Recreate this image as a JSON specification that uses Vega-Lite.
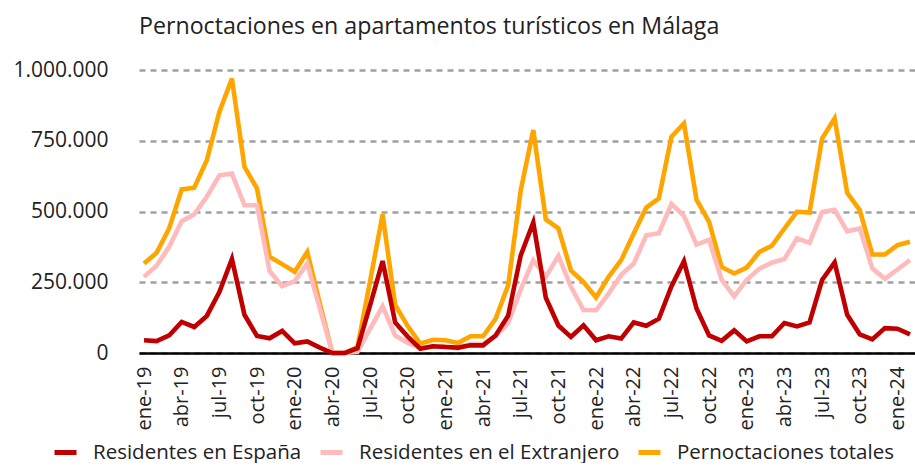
{
  "$schema": "https://vega.github.io/schema/vega-lite/v6.json",
  "width": 776,
  "height": 283,
  "padding": {"left": 0, "top": 14, "right": 0, "bottom": 0},
  "background": "white",
  "config": {
    "view": {"stroke": null},
    "locale": {"number": {"decimal": ",", "thousands": ".", "grouping": [3], "currency": ["", " €"]}},
    "font": "Open Sans"
  },
  "title": {
    "text": "Pernoctaciones en apartamentos turísticos en Málaga",
    "anchor": "start",
    "frame": "group",
    "font": "Open Sans",
    "fontSize": 23.2,
    "fontWeight": "normal",
    "color": "#222222",
    "offset": 20
  },
  "data": {
    "values": [
      {"mes": "ene-19", "esp": 45000, "ext": 269000, "tot": 316000},
      {"mes": "feb-19", "esp": 42000, "ext": 308000, "tot": 354000},
      {"mes": "mar-19", "esp": 62000, "ext": 375000, "tot": 440000},
      {"mes": "abr-19", "esp": 110000, "ext": 466000, "tot": 578000},
      {"mes": "may-19", "esp": 92000, "ext": 490000, "tot": 584000},
      {"mes": "jun-19", "esp": 131000, "ext": 552000, "tot": 681000},
      {"mes": "jul-19", "esp": 215000, "ext": 628000, "tot": 852000},
      {"mes": "ago-19", "esp": 332000, "ext": 634000, "tot": 970000},
      {"mes": "sep-19", "esp": 135000, "ext": 522000, "tot": 658000},
      {"mes": "oct-19", "esp": 60000, "ext": 522000, "tot": 581000},
      {"mes": "nov-19", "esp": 52000, "ext": 290000, "tot": 340000},
      {"mes": "dic-19", "esp": 78000, "ext": 236000, "tot": 314000},
      {"mes": "ene-20", "esp": 34000, "ext": 254000, "tot": 287000},
      {"mes": "feb-20", "esp": 41000, "ext": 316000, "tot": 357000},
      {"mes": "mar-20", "esp": 19000, "ext": 157000, "tot": 175000},
      {"mes": "abr-20", "esp": 0, "ext": 0, "tot": 0},
      {"mes": "may-20", "esp": 0, "ext": 0, "tot": 0},
      {"mes": "jun-20", "esp": 17000, "ext": 4000, "tot": 21000},
      {"mes": "jul-20", "esp": 168000, "ext": 85000, "tot": 253000},
      {"mes": "ago-20", "esp": 325000, "ext": 165000, "tot": 490000},
      {"mes": "sep-20", "esp": 108000, "ext": 62000, "tot": 170000},
      {"mes": "oct-20", "esp": 58000, "ext": 36000, "tot": 95000},
      {"mes": "nov-20", "esp": 15000, "ext": 18000, "tot": 33000},
      {"mes": "dic-20", "esp": 24000, "ext": 23000, "tot": 47000},
      {"mes": "ene-21", "esp": 21000, "ext": 24000, "tot": 45000},
      {"mes": "feb-21", "esp": 19000, "ext": 16000, "tot": 35000},
      {"mes": "mar-21", "esp": 27000, "ext": 32000, "tot": 59000},
      {"mes": "abr-21", "esp": 27000, "ext": 32000, "tot": 59000},
      {"mes": "may-21", "esp": 62000, "ext": 59000, "tot": 121000},
      {"mes": "jun-21", "esp": 132000, "ext": 105000, "tot": 239000},
      {"mes": "jul-21", "esp": 345000, "ext": 225000, "tot": 575000},
      {"mes": "ago-21", "esp": 461000, "ext": 328000, "tot": 788000},
      {"mes": "sep-21", "esp": 195000, "ext": 270000, "tot": 472000},
      {"mes": "oct-21", "esp": 97000, "ext": 343000, "tot": 440000},
      {"mes": "nov-21", "esp": 57000, "ext": 234000, "tot": 292000},
      {"mes": "dic-21", "esp": 98000, "ext": 152000, "tot": 251000},
      {"mes": "ene-22", "esp": 45000, "ext": 151000, "tot": 196000},
      {"mes": "feb-22", "esp": 59000, "ext": 210000, "tot": 269000},
      {"mes": "mar-22", "esp": 51000, "ext": 276000, "tot": 328000},
      {"mes": "abr-22", "esp": 108000, "ext": 316000, "tot": 422000},
      {"mes": "may-22", "esp": 96000, "ext": 416000, "tot": 514000},
      {"mes": "jun-22", "esp": 121000, "ext": 423000, "tot": 546000},
      {"mes": "jul-22", "esp": 235000, "ext": 527000, "tot": 764000},
      {"mes": "ago-22", "esp": 324000, "ext": 485000, "tot": 811000},
      {"mes": "sep-22", "esp": 157000, "ext": 383000, "tot": 542000},
      {"mes": "oct-22", "esp": 62000, "ext": 400000, "tot": 463000},
      {"mes": "nov-22", "esp": 43000, "ext": 259000, "tot": 304000},
      {"mes": "dic-22", "esp": 80000, "ext": 200000, "tot": 281000},
      {"mes": "ene-23", "esp": 41000, "ext": 259000, "tot": 302000},
      {"mes": "feb-23", "esp": 59000, "ext": 298000, "tot": 357000},
      {"mes": "mar-23", "esp": 59000, "ext": 319000, "tot": 379000},
      {"mes": "abr-23", "esp": 106000, "ext": 332000, "tot": 440000},
      {"mes": "may-23", "esp": 94000, "ext": 405000, "tot": 499000},
      {"mes": "jun-23", "esp": 108000, "ext": 389000, "tot": 496000},
      {"mes": "jul-23", "esp": 258000, "ext": 498000, "tot": 758000},
      {"mes": "ago-23", "esp": 320000, "ext": 506000, "tot": 829000},
      {"mes": "sep-23", "esp": 135000, "ext": 430000, "tot": 566000},
      {"mes": "oct-23", "esp": 66000, "ext": 440000, "tot": 505000},
      {"mes": "nov-23", "esp": 48000, "ext": 299000, "tot": 348000},
      {"mes": "dic-23", "esp": 88000, "ext": 262000, "tot": 348000},
      {"mes": "ene-24", "esp": 86000, "ext": 295000, "tot": 381000},
      {"mes": "feb-24", "esp": 66000, "ext": 328000, "tot": 393000}
    ]
  },
  "encoding": {
    "x": {
      "field": "mes",
      "type": "ordinal",
      "sort": null,
      "scale": {"type": "point", "padding": 0.4},
      "axis": {
        "title": null,
        "values": ["ene-19","abr-19","jul-19","oct-19","ene-20","abr-20","jul-20","oct-20","ene-21","abr-21","jul-21","oct-21","ene-22","abr-22","jul-22","oct-22","ene-23","abr-23","jul-23","oct-23","ene-24"],
        "labelAngle": -90,
        "labelFont": "Open Sans",
        "labelFontSize": 20,
        "labelColor": "#222222",
        "labelPadding": 13,
        "ticks": false,
        "domain": true,
        "domainColor": "#000000",
        "domainWidth": 2.5,
        "grid": false
      }
    }
  },
  "layer": [
    {
      "mark": {"type": "line", "strokeWidth": 4.6},
      "encoding": {
        "y": {
          "field": "tot",
          "type": "quantitative",
          "scale": {"domain": [0, 1000000], "nice": false},
          "axis": {
            "title": null,
            "values": [0, 250000, 500000, 750000, 1000000],
            "format": ",.0f",
            "labelFont": "Open Sans",
            "labelFontSize": 21,
            "labelColor": "#222222",
            "labelPadding": 31,
            "minExtent": 139,
            "maxExtent": 139,
            "ticks": false,
            "domain": false,
            "grid": true,
            "gridColor": "#a0a0a0",
            "gridWidth": 2.5,
            "gridDash": [6, 5]
          }
        },
        "color": {
          "datum": "Pernoctaciones totales",
          "type": "nominal",
          "scale": {
            "domain": ["Residentes en España", "Residentes en el Extranjero", "Pernoctaciones totales"],
            "range": ["#C00000", "#FFBBBB", "#FFA500"]
          },
          "legend": {
            "title": null,
            "orient": "none",
            "direction": "horizontal",
            "legendX": -87,
            "legendY": 369,
            "symbolType": "stroke",
            "symbolStrokeWidth": 5,
            "symbolSize": 484,
            "labelFont": "Open Sans",
            "labelFontSize": 20.5,
            "labelColor": "#222222",
            "labelOffset": 14,
            "columnPadding": 8,
            "labelLimit": 400
          }
        }
      }
    },
    {
      "mark": {"type": "line", "strokeWidth": 4.6},
      "encoding": {
        "y": {"field": "ext", "type": "quantitative"},
        "color": {"datum": "Residentes en el Extranjero", "type": "nominal"}
      }
    },
    {
      "mark": {"type": "line", "strokeWidth": 4.6},
      "encoding": {
        "y": {"field": "esp", "type": "quantitative"},
        "color": {"datum": "Residentes en España", "type": "nominal"}
      }
    }
  ]
}
